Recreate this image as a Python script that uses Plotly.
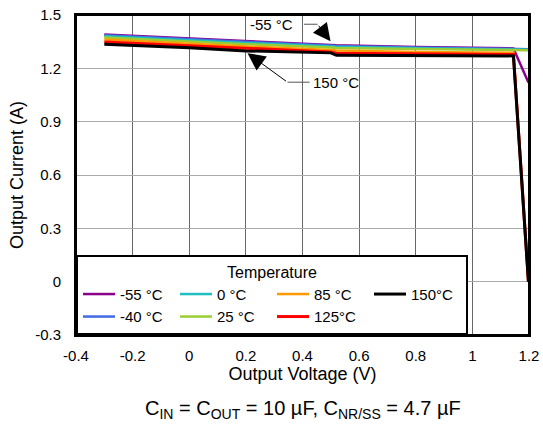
import plotly.graph_objects as go

# output voltage (V) sample points shared by all curves
voltage = [-0.3, 0.0, 0.2, 0.5, 0.52, 0.8, 1.0, 1.145, 1.198]

# output current (A) per temperature
i_m55 = [1.390, 1.367, 1.354, 1.332, 1.330, 1.320, 1.315, 1.312, 1.120]
i_m40 = [1.386, 1.362, 1.349, 1.328, 1.326, 1.317, 1.313, 1.310, 1.308]
i_0 = [1.380, 1.357, 1.343, 1.323, 1.321, 1.313, 1.310, 1.307, 1.305]
i_25 = [1.373, 1.350, 1.336, 1.317, 1.315, 1.309, 1.306, 1.304, 1.302]
i_85 = [1.362, 1.338, 1.323, 1.303, 1.300, 1.292, 1.290, 1.288, 0.0]
i_125 = [1.348, 1.327, 1.310, 1.292, 1.285, 1.280, 1.279, 1.278, 0.0]
i_150 = [1.335, 1.316, 1.298, 1.287, 1.273, 1.270, 1.270, 1.270, 0.0]

temps = ["-55 °C", "-40 °C", "0 °C", "25 °C", "85 °C", "125°C", "150°C"]
currents = [i_m55, i_m40, i_0, i_25, i_85, i_125, i_150]
colors = ["#8b008b", "#4169e1", "#20c0c0", "#9acd32", "#ff9900", "#ff0000", "#000000"]
widths = [2.5, 2.5, 2.5, 2.5, 2.5, 3, 3]
# legend is filled column by column in the reference
ranks = [1, 5, 2, 6, 3, 7, 4]

x_ticks = [-0.4, -0.2, 0, 0.2, 0.4, 0.6, 0.8, 1.0, 1.2]
x_labels = ["-0.4", "-0.2", "0", "0.2", "0.4", "0.6", "0.8", "1", "1.2"]
y_ticks = [-0.3, 0, 0.3, 0.6, 0.9, 1.2, 1.5]
y_labels = ["-0.3", "0", "0.3", "0.6", "0.9", "1.2", "1.5"]

fig = go.Figure()
for name, cur, col, w, rk in zip(temps, currents, colors, widths, ranks):
    fig.add_trace(go.Scatter(x=voltage, y=cur, mode="lines", name=name,
                             line=dict(color=col, width=w), legendrank=rk))

# callout for -55 °C
fig.add_annotation(x=0.291, y=1.448, text="-55 °C", showarrow=False,
                   font=dict(size=15, color="black"))
fig.add_shape(type="line", x0=0.405, y0=1.448, x1=0.453, y1=1.448,
              line=dict(color="#555555", width=1))
fig.add_annotation(x=0.499, y=1.352, ax=0.453, ay=1.448, axref="x", ayref="y",
                   text="", showarrow=True, arrowhead=2, arrowsize=3.5,
                   arrowwidth=1, arrowcolor="black")
# callout for 150 °C
fig.add_annotation(x=0.52, y=1.122, text="150 °C", showarrow=False,
                   font=dict(size=15, color="black"))
fig.add_shape(type="line", x0=0.425, y0=1.122, x1=0.347, y1=1.122,
              line=dict(color="#555555", width=1))
fig.add_annotation(x=0.206, y=1.285, ax=0.347, ay=1.122, axref="x", ayref="y",
                   text="", showarrow=True, arrowhead=2, arrowsize=3.5,
                   arrowwidth=1, arrowcolor="black")

# plot frame
fig.add_shape(type="rect", xref="paper", yref="paper", x0=0, y0=0, x1=1, y1=1,
              line=dict(color="black", width=2), layer="above")

# test conditions caption under the chart
fig.add_annotation(x=0.5, y=-0.234, xref="paper", yref="paper", showarrow=False,
                   xanchor="center", yanchor="middle",
                   text="C<sub>IN</sub> = C<sub>OUT</sub> = 10 µF, C<sub>NR/SS</sub> = 4.7 µF",
                   font=dict(size=20, color="black"))

fig.update_xaxes(range=[-0.4, 1.2], tickvals=x_ticks, ticktext=x_labels,
                 showgrid=True, gridcolor="#666666", gridwidth=1,
                 showline=True, linecolor="black", linewidth=2, mirror=True,
                 zeroline=False, ticks="", ticklabelstandoff=6, automargin=False,
                 title=dict(text="Output Voltage (V)", standoff=4))
fig.update_yaxes(range=[-0.3, 1.5], tickvals=y_ticks, ticktext=y_labels,
                 showgrid=True, gridcolor="#aaaaaa", gridwidth=1,
                 showline=True, linecolor="black", linewidth=2, mirror=True,
                 zeroline=False, ticks="", ticklabelstandoff=10, automargin=False,
                 title=dict(text="Output Current (A)", standoff=7))

fig.update_layout(
    width=543, height=426,
    margin=dict(l=76, r=14, t=15, b=91),
    paper_bgcolor="white", plot_bgcolor="white",
    font=dict(family="Liberation Sans, Arial", size=15, color="black"),
    legend=dict(orientation="h", x=0, y=0, xanchor="left", yanchor="bottom",
                bgcolor="white", bordercolor="black", borderwidth=2,
                title=dict(text="Temperature", side="top center", font=dict(size=16)),
                font=dict(size=15), traceorder="normal",
                entrywidth=50, itemwidth=32),
)

# drop the default 8 px page margin so the figure sits at the window corner
fig.write_html("out.html", config={"displayModeBar": False},
               post_script="document.body.style.margin='0';")
